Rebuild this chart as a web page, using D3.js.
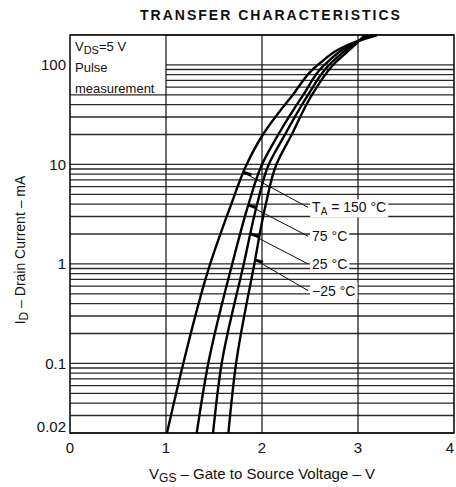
<!DOCTYPE html>
<html>
<head>
<meta charset="utf-8"/>
<title>Transfer characteristics</title>
<style>
  body { margin: 0; background: #fff; }
  text { font-family: "Liberation Sans", Arial, sans-serif; fill: #111; }
</style>
</head>
<body>
<div id="chart"></div>
<script src="https://d3js.org/d3.v7.min.js"></script>
<script>
// drain current points (mA) at which the gate voltage of each curve was read
var idPoints = [0.02, 0.1, 1, 4, 10, 20, 50, 100, 170, 200];
// gate to source voltage (V) for each ambient temperature
var vgs150 = [1.01, 1.18, 1.46, 1.68, 1.84, 2.01, 2.32, 2.58, 2.97, 3.20];
var vgs75  = [1.32, 1.44, 1.69, 1.86, 2.00, 2.17, 2.43, 2.65, 2.98, 3.15];
var vgs25  = [1.49, 1.58, 1.81, 1.95, 2.07, 2.24, 2.48, 2.70, 2.99, 3.11];
var vgsM25 = [1.65, 1.73, 1.92, 2.04, 2.15, 2.31, 2.52, 2.74, 3.00, 3.07];

var tempLabels = ["150 °C", "75 °C", "25 °C", "−25 °C"];
var markerCurrent = [8.3, 3.9, 2.0, 1.1];   // where each pointer touches its curve
var labelCurrent = [3.7, 1.9, 1.0, 0.54];   // where each label sits
var labelVoltage = 2.48;

var xTicks = [0, 1, 2, 3, 4];
var yTickLabels = [0.02, 0.1, 1, 10, 100];

var margin = {top: 35, right: 2, bottom: 54, left: 70},
    width = 456 - margin.left - margin.right,
    height = 487 - margin.top - margin.bottom;

var svg = d3.select("#chart").append("svg")
    .attr("width", 456).attr("height", 487);

// title
svg.append("text")
    .attr("x", 271).attr("y", 20)
    .attr("text-anchor", "middle")
    .style("font-size", "14px").style("font-weight", "bold")
    .style("letter-spacing", "2px")
    .text("TRANSFER CHARACTERISTICS");

var g = svg.append("g")
    .attr("transform", "translate(" + margin.left + "," + margin.top + ")");

var x = d3.scaleLinear().domain([0, 4]).range([0, width]);
var y = d3.scaleLog().domain([0.02, 200]).range([height, 0]);

// horizontal grid, every 1..9 of each decade
g.append("g").selectAll("line")
  .data(y.ticks())
  .join("line")
    .attr("x1", 0).attr("x2", width)
    .attr("y1", d => y(d)).attr("y2", d => y(d))
    .attr("stroke", "#2a2a2a").attr("stroke-width", 1.3);

// white box for the conditions text
g.append("rect")
    .attr("x", x(0)).attr("y", y(200))
    .attr("width", x(1) - x(0)).attr("height", y(52) - y(200))
    .attr("fill", "#fff");

// vertical grid
g.append("g").selectAll("line")
  .data(xTicks.slice(1, -1))
  .join("line")
    .attr("x1", d => x(d)).attr("x2", d => x(d))
    .attr("y1", 0).attr("y2", height)
    .attr("stroke", "#111").attr("stroke-width", 1.2);

// frame
g.append("rect")
    .attr("width", width).attr("height", height)
    .attr("fill", "none").attr("stroke", "#111").attr("stroke-width", 1.6);

// conditions text
var cond = g.append("g").style("font-size", "13px");
var t1 = cond.append("text").attr("x", 5).attr("y", 16);
t1.append("tspan").text("V");
t1.append("tspan").attr("dy", 3).style("font-size", "11px").text("DS");
t1.append("tspan").attr("dy", -3).text("=5 V");
cond.append("text").attr("x", 5).attr("y", 37).text("Pulse");
cond.append("text").attr("x", 5).attr("y", 58).text("measurement");

// curves
var series = [vgs150, vgs75, vgs25, vgsM25];
var line = d3.line()
    .x(d => x(d[0]))
    .y(d => y(d[1]))
    .curve(d3.curveMonotoneY);

// temperature labels (white boxes first so they mask the grid)
var labelLayer = g.append("g");
var curveLayer = g.append("g");
var pointerLayer = g.append("g");

curveLayer.selectAll("path")
  .data(series)
  .join("path")
    .attr("fill", "none")
    .attr("stroke", "#000")
    .attr("stroke-width", 2.4)
    .attr("d", s => line(s.map((v, i) => [v, idPoints[i]])));

series.forEach(function(s, i) {
  var vAt = d3.scaleLog().domain(idPoints).range(s);
  var px = x(vAt(markerCurrent[i])), py = y(markerCurrent[i]);
  var lx = x(labelVoltage), ly = y(labelCurrent[i]);
  var dx = lx - px, dy = ly - py, len = Math.sqrt(dx * dx + dy * dy);

  var box = labelLayer.append("rect").attr("fill", "#fff");
  var lab = labelLayer.append("text")
      .attr("x", lx + 4).attr("y", ly + 5)
      .style("font-size", "14px");
  if (i === 0) {
    lab.append("tspan").text("T");
    lab.append("tspan").attr("dy", 3).style("font-size", "10px").text("A");
    lab.append("tspan").attr("dy", -3).text(" = " + tempLabels[i]);
  } else {
    lab.text(tempLabels[i]);
  }
  var bb = lab.node().getBBox();
  box.attr("x", bb.x - 2).attr("y", bb.y)
     .attr("width", bb.width + 4).attr("height", bb.height);

  pointerLayer.append("line")
      .attr("x1", px).attr("y1", py).attr("x2", lx).attr("y2", ly)
      .attr("stroke", "#111").attr("stroke-width", 1);
  pointerLayer.append("line")
      .attr("x1", px).attr("y1", py)
      .attr("x2", px + dx / len * 9).attr("y2", py + dy / len * 9 - 2)
      .attr("stroke", "#000").attr("stroke-width", 3);
});

// tick labels
g.append("g").selectAll("text")
  .data(xTicks)
  .join("text")
    .attr("x", d => x(d)).attr("y", height + 20)
    .attr("text-anchor", (d, i) => i === xTicks.length - 1 ? "end" : "middle")
    .style("font-size", "15px")
    .text(d => d);

g.append("g").selectAll("text")
  .data(yTickLabels)
  .join("text")
    .attr("x", -4).attr("y", d => y(d))
    .attr("dy", d => d === 0.02 ? "-0.05em" : "0.35em")
    .attr("text-anchor", "end")
    .style("font-size", "15px")
    .text(d => d);

// axis titles
var xl = svg.append("text")
    .attr("x", 262).attr("y", 479)
    .attr("text-anchor", "middle")
    .style("font-size", "15px");
xl.append("tspan").text("V");
xl.append("tspan").attr("dy", 3).style("font-size", "12px").text("GS");
xl.append("tspan").attr("dy", -3).text(" – Gate to Source Voltage – V");

var yl = svg.append("text")
    .attr("transform", "translate(25,250) rotate(-90)")
    .attr("text-anchor", "middle")
    .style("font-size", "14px");
yl.append("tspan").text("I");
yl.append("tspan").attr("dy", 3).style("font-size", "12px").text("D");
yl.append("tspan").attr("dy", -3).text(" – Drain Current – mA");
</script>
</body>
</html>
